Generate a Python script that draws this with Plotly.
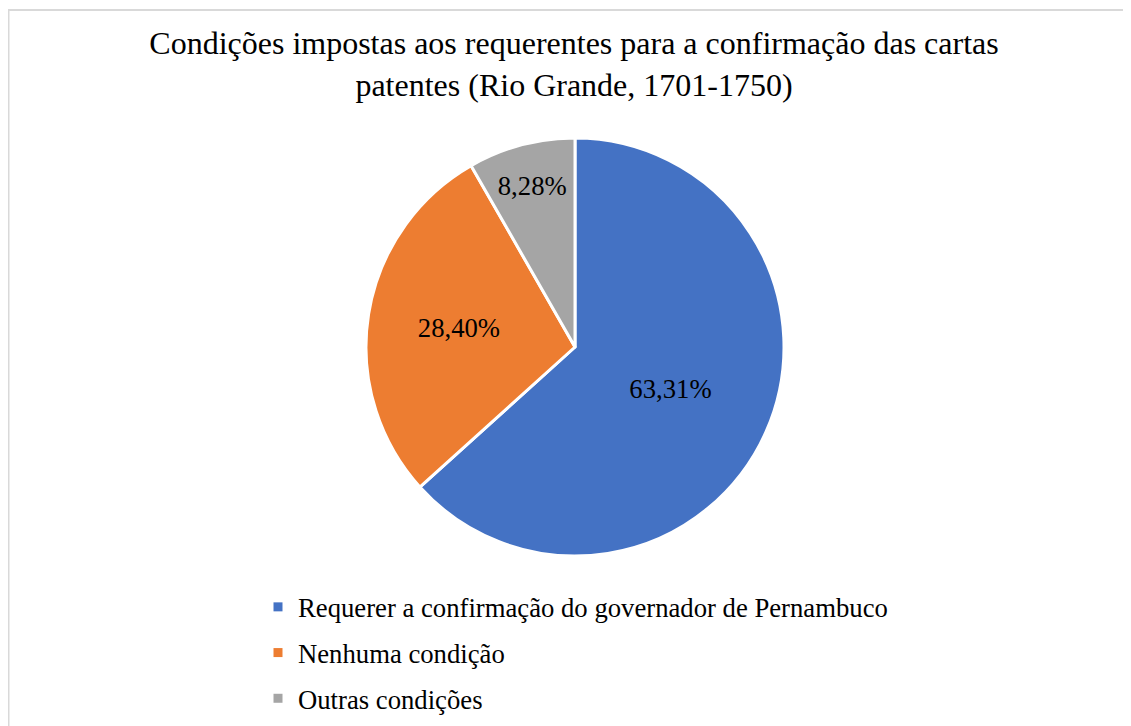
import plotly.graph_objects as go

labels = ["Requerer a confirmação do governador de Pernambuco", "Nenhuma condição", "Outras condições"]
values = [63.31, 28.40, 8.28]
value_text = ["63,31%", "28,40%", "8,28%"]
colors = ["#4472C4", "#ED7D31", "#A5A5A5"]
title_lines = ["Condições impostas aos requerentes para a confirmação das cartas",
               "patentes (Rio Grande, 1701-1750)"]

W, H = 1131, 726
FONT = "Liberation Serif"

fig = go.Figure()
fig.add_trace(go.Pie(
    labels=labels, values=values, text=value_text,
    texttemplate="%{text}", textposition="inside",
    insidetextorientation="horizontal",
    sort=False, direction="clockwise", rotation=0,
    marker=dict(colors=colors, line=dict(color="white", width=3)),
    textfont=dict(family=FONT, size=26.7, color="black"),
    showlegend=False, hoverinfo="label+percent",
    domain=dict(x=[358 / W, 776 / W], y=[1 - 548 / H, 1 - 130 / H]),
))

for i, (lab, col) in enumerate(zip(labels, colors)):
    fig.add_trace(go.Scatter(
        x=[None], y=[None], mode="markers", name=lab,
        marker=dict(symbol="square", size=9, color=col),
        legendgroup=f"g{i}", showlegend=True,
    ))

fig.update_layout(
    width=W, height=H,
    margin=dict(l=0, r=0, t=0, b=0),
    paper_bgcolor="white", plot_bgcolor="white",
    font=dict(family=FONT, color="black"),
    title=dict(text="<br>".join(title_lines), x=566 / W, xanchor="center",
               y=1 - 46 / H, yanchor="top",
               font=dict(family=FONT, size=32, color="black")),
    xaxis=dict(visible=False), yaxis=dict(visible=False),
    legend=dict(x=250 / W, xanchor="left", y=1 - 575 / H, yanchor="top",
                font=dict(family=FONT, size=26.7, color="black"),
                traceorder="grouped", tracegroupgap=8,
                bgcolor="rgba(0,0,0,0)"),
    uniformtext=dict(minsize=26.7, mode="show"),
    shapes=[dict(type="rect", xref="paper", yref="paper",
                 x0=0.5 / W, x1=1.5, y0=-0.5, y1=1 - 2 / H,
                 line=dict(color="#D9D9D9", width=2), fillcolor="rgba(0,0,0,0)",
                 layer="below")],
)

fig.write_html("out.html")
